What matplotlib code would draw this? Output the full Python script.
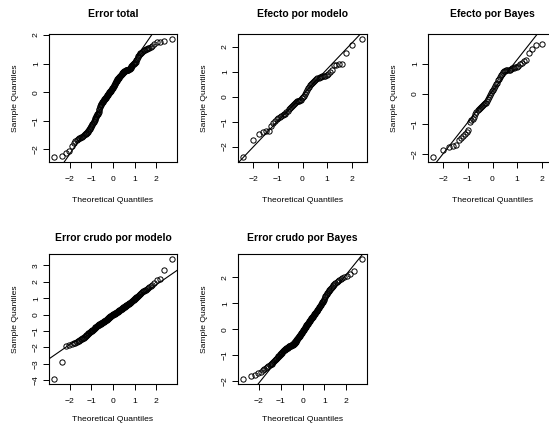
import numpy as np
import matplotlib.pyplot as plt
from statistics import NormalDist

plt.rcParams['font.family'] = ['Liberation Sans', 'DejaVu Sans']

# sample values (sorted)
error_total = [
    -2.28, -2.23, -2.12, -2.06, -1.89, -1.79, -1.71, -1.66, -1.63, -1.61,
    -1.60, -1.58, -1.56, -1.53, -1.51, -1.48, -1.46, -1.44, -1.42, -1.38,
    -1.35, -1.32, -1.29, -1.26, -1.23, -1.19, -1.15, -1.11, -1.07, -1.03,
    -1.00, -0.98, -0.95, -0.92, -0.88, -0.84, -0.80, -0.77, -0.75, -0.73,
    -0.70, -0.64, -0.58, -0.53, -0.49, -0.46, -0.43, -0.40, -0.38, -0.36,
    -0.34, -0.32, -0.30, -0.28, -0.26, -0.24, -0.23, -0.21, -0.19, -0.18,
    -0.16, -0.14, -0.12, -0.11, -0.09, -0.08, -0.06, -0.04, -0.03, -0.01,
    0.00, 0.02, 0.03, 0.05, 0.07, 0.09, 0.11, 0.12, 0.14, 0.16,
    0.18, 0.20, 0.22, 0.25, 0.27, 0.29, 0.31, 0.34, 0.36, 0.38,
    0.40, 0.42, 0.45, 0.46, 0.47, 0.49, 0.50, 0.52, 0.53, 0.55,
    0.56, 0.58, 0.59, 0.61, 0.62, 0.64, 0.66, 0.67, 0.69, 0.71,
    0.72, 0.73, 0.74, 0.75, 0.75, 0.76, 0.76, 0.77, 0.77, 0.78,
    0.78, 0.79, 0.80, 0.81, 0.82, 0.84, 0.86, 0.88, 0.90, 0.92,
    0.94, 0.97, 0.99, 1.01, 1.03, 1.05, 1.07, 1.11, 1.16, 1.22,
    1.25, 1.30, 1.32, 1.36, 1.38, 1.41, 1.44, 1.46, 1.48, 1.50,
    1.52, 1.54, 1.56, 1.58, 1.62, 1.69, 1.74, 1.75, 1.78, 1.87,
]

efecto_modelo = [
    -2.43, -1.75, -1.50, -1.43, -1.38, -1.36, -1.19, -1.07, -0.98, -0.91,
    -0.86, -0.83, -0.79, -0.75, -0.71, -0.68, -0.62, -0.56, -0.50, -0.45,
    -0.41, -0.37, -0.32, -0.28, -0.24, -0.20, -0.19, -0.18, -0.16, -0.15,
    -0.13, -0.07, -0.02, 0.04, 0.11, 0.19, 0.27, 0.36, 0.41, 0.47,
    0.52, 0.56, 0.60, 0.64, 0.69, 0.72, 0.75, 0.77, 0.79, 0.81,
    0.83, 0.84, 0.85, 0.86, 0.93, 1.01, 1.08, 1.26, 1.28, 1.30,
    1.32, 1.76, 2.07, 2.33,
]

efecto_bayes = [
    -2.10, -1.86, -1.76, -1.72, -1.68, -1.53, -1.46, -1.40, -1.32, -1.26,
    -1.20, -0.95, -0.88, -0.83, -0.76, -0.66, -0.59, -0.53, -0.50, -0.47,
    -0.44, -0.41, -0.38, -0.35, -0.32, -0.30, -0.24, -0.18, -0.11, -0.05,
    0.01, 0.08, 0.14, 0.19, 0.25, 0.31, 0.37, 0.44, 0.50, 0.57,
    0.63, 0.67, 0.71, 0.74, 0.76, 0.77, 0.78, 0.79, 0.80, 0.82,
    0.84, 0.86, 0.88, 0.90, 0.93, 0.97, 1.02, 1.07, 1.12, 1.34,
    1.48, 1.62, 1.64, 1.82,
]

error_crudo_modelo = [
    -3.93, -2.90, -1.91, -1.87, -1.80, -1.75, -1.70, -1.65, -1.62, -1.58,
    -1.55, -1.51, -1.47, -1.44, -1.40, -1.36, -1.31, -1.26, -1.21, -1.16,
    -1.12, -1.09, -1.07, -1.05, -1.02, -1.00, -0.98, -0.95, -0.92, -0.88,
    -0.85, -0.83, -0.80, -0.77, -0.75, -0.73, -0.71, -0.68, -0.66, -0.63,
    -0.61, -0.60, -0.58, -0.57, -0.56, -0.55, -0.53, -0.52, -0.51, -0.49,
    -0.47, -0.46, -0.44, -0.42, -0.41, -0.39, -0.38, -0.36, -0.35, -0.33,
    -0.32, -0.30, -0.28, -0.26, -0.25, -0.23, -0.21, -0.19, -0.17, -0.15,
    -0.14, -0.12, -0.10, -0.09, -0.07, -0.06, -0.04, -0.03, -0.02, -0.01,
    0.01, 0.02, 0.03, 0.05, 0.06, 0.08, 0.09, 0.11, 0.12, 0.13,
    0.15, 0.16, 0.18, 0.19, 0.21, 0.22, 0.24, 0.25, 0.27, 0.28,
    0.30, 0.31, 0.33, 0.34, 0.36, 0.37, 0.39, 0.40, 0.42, 0.44,
    0.46, 0.47, 0.49, 0.51, 0.52, 0.54, 0.56, 0.58, 0.60, 0.61,
    0.63, 0.65, 0.67, 0.69, 0.71, 0.73, 0.76, 0.78, 0.80, 0.83,
    0.86, 0.88, 0.91, 0.94, 0.97, 1.00, 1.03, 1.06, 1.10, 1.13,
    1.16, 1.20, 1.24, 1.28, 1.32, 1.37, 1.41, 1.45, 1.49, 1.53,
    1.56, 1.60, 1.66, 1.74, 1.83, 1.93, 2.12, 2.20, 2.72, 3.40,
]

error_crudo_bayes = [
    -1.92, -1.81, -1.77, -1.69, -1.63, -1.58, -1.53, -1.47, -1.44, -1.41,
    -1.38, -1.35, -1.32, -1.29, -1.26, -1.23, -1.19, -1.16, -1.13, -1.09,
    -1.06, -1.04, -1.01, -0.99, -0.96, -0.94, -0.92, -0.90, -0.87, -0.85,
    -0.83, -0.81, -0.79, -0.78, -0.75, -0.74, -0.73, -0.72, -0.71, -0.70,
    -0.68, -0.67, -0.66, -0.65, -0.65, -0.64, -0.63, -0.63, -0.62, -0.62,
    -0.61, -0.60, -0.59, -0.58, -0.57, -0.56, -0.55, -0.53, -0.51, -0.49,
    -0.47, -0.45, -0.43, -0.41, -0.39, -0.37, -0.35, -0.33, -0.31, -0.29,
    -0.27, -0.25, -0.23, -0.21, -0.19, -0.17, -0.15, -0.13, -0.11, -0.09,
    -0.07, -0.05, -0.03, -0.01, 0.01, 0.03, 0.05, 0.07, 0.09, 0.11,
    0.13, 0.15, 0.17, 0.19, 0.21, 0.23, 0.25, 0.27, 0.29, 0.31,
    0.33, 0.35, 0.37, 0.39, 0.41, 0.43, 0.45, 0.47, 0.49, 0.51,
    0.53, 0.55, 0.58, 0.60, 0.62, 0.64, 0.66, 0.68, 0.70, 0.72,
    0.74, 0.77, 0.80, 0.83, 0.86, 0.89, 0.92, 0.95, 0.98, 1.01,
    1.04, 1.07, 1.11, 1.15, 1.19, 1.23, 1.27, 1.31, 1.36, 1.41,
    1.45, 1.49, 1.53, 1.56, 1.59, 1.62, 1.66, 1.70, 1.73, 1.77,
    1.81, 1.85, 1.89, 1.93, 1.97, 2.01, 2.06, 2.12, 2.26, 2.72,
]

titles = ["Error total", "Efecto por modelo", "Efecto por Bayes",
          "Error crudo por modelo", "Error crudo por Bayes"]
samples = [error_total, efecto_modelo, efecto_bayes,
           error_crudo_modelo, error_crudo_bayes]


def qqnorm_panel(ax, sample, title, title_pad, xlab_pad):
    y = np.sort(np.asarray(sample, dtype=float))
    n = len(y)
    a = 3 / 8 if n <= 10 else 0.5
    p = (np.arange(1, n + 1) - a) / (n + 1 - 2 * a)
    x = np.array([NormalDist().inv_cdf(v) for v in p])

    ax.plot(x, y, 'o', ms=3.8, mfc='none', mec='black', mew=0.7)

    # qqline: through the first and third quartiles
    yq = np.quantile(y, [0.25, 0.75])
    xq = np.array([NormalDist().inv_cdf(v) for v in (0.25, 0.75)])
    slope = (yq[1] - yq[0]) / (xq[1] - xq[0])
    ax.axline((xq[0], yq[0]), slope=slope, color='black', lw=0.8)

    # R style axis ranges (4% extension)
    for lo, hi, setlim, setticks in ((x.min(), x.max(), ax.set_xlim, ax.set_xticks),
                                     (y.min(), y.max(), ax.set_ylim, ax.set_yticks)):
        r = hi - lo
        l0, l1 = lo - 0.04 * r, hi + 0.04 * r
        setlim(l0, l1)
        setticks(np.arange(np.ceil(l0), np.floor(l1) + 1))

    ax.tick_params(direction='out', length=4.3, width=0.7, labelsize=6.1)
    ax.tick_params(axis='x', pad=6.0)
    ax.tick_params(axis='y', pad=2.2)
    plt.setp(ax.get_yticklabels(), rotation=90, va='center')
    for s in ax.spines.values():
        s.set_linewidth(0.8)

    ax.set_title(title, fontsize=7.5, fontweight='bold', pad=title_pad)
    ax.set_xlabel("Theoretical Quantiles", fontsize=6.1, labelpad=xlab_pad)
    ax.set_ylabel("Sample Quantiles", fontsize=6.1, labelpad=10.0)


fig = plt.figure(figsize=(5.49, 4.26), dpi=100)
W, H = 549, 426
boxes = [(49, 34, 128, 128), (238, 34, 129, 128), (428, 34, 129, 128),
         (49, 254, 128, 130), (238, 254, 129, 130)]
pads = [12.0, 12.0, 12.0, 9.5, 9.5]
xlab_pads = [9.5, 9.5, 9.5, 8.0, 8.0]

for (left, top, w, h), sample, title, pad, xp in zip(boxes, samples, titles, pads, xlab_pads):
    ax = fig.add_axes([left / W, 1 - (top + h) / H, w / W, h / H])
    qqnorm_panel(ax, sample, title, pad, xp)

fig.savefig("out.png", dpi=100)
